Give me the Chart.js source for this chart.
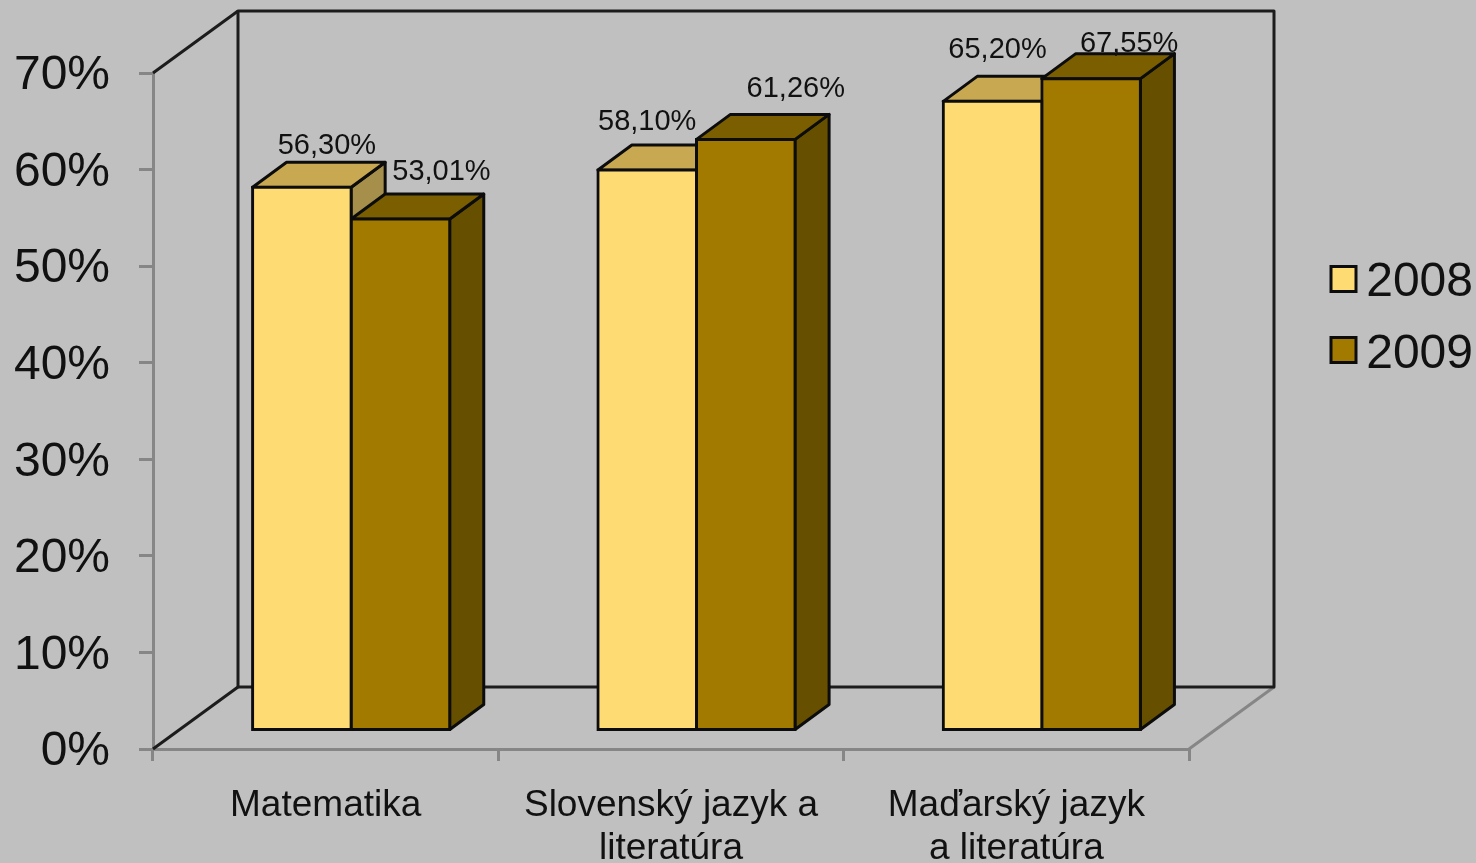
<!DOCTYPE html>
<html>
<head>
<meta charset="utf-8">
<style>html,body{margin:0;padding:0;background:#C0C0C0;overflow:hidden}canvas{display:block}</style>
<script src="https://cdn.jsdelivr.net/npm/chart.js@4"></script>
</head>
<body>
<canvas id="c" width="1476" height="863"></canvas>
<script>
const categories = ['Matematika', ['Slovenský jazyk a', 'literatúra'], ['Maďarský jazyk', 'a literatúra']];
const values2008 = [56.30, 58.10, 65.20];
const values2009 = [53.01, 61.26, 67.55];
const seriesNames = ['2008', '2009'];

const FONT = '"Liberation Sans", Arial, sans-serif';
const INK = '#111111', GREY = '#868686', WALL = '#1c1c1c', EDGE = '#0c0c0c';
const wallD = {x: 85, y: -62};      // wall depth
const front = {x: 25.5, y: -18};    // bars' front plane shift
const barD = {x: 34, y: -25};       // bar depth
const fills = ['#FFDC73', '#A37A00'];
const faces = [
  {top: '#C8A850', side: '#A58F4B'},
  {top: '#7B5E00', side: '#665000'}
];
const labelShift = [
  [[25, -41], [0, -48], [5, -51]],
  [[41, -47], [50, -50], [38, -35]]
];

function poly(ctx, pts, fill, stroke, w) {
  ctx.beginPath();
  pts.forEach((p, i) => i ? ctx.lineTo(p[0], p[1]) : ctx.moveTo(p[0], p[1]));
  ctx.closePath();
  if (fill) { ctx.fillStyle = fill; ctx.fill(); }
  if (stroke) { ctx.strokeStyle = stroke; ctx.lineWidth = w; ctx.lineJoin = 'round'; ctx.stroke(); }
}
function line(ctx, a, b, c, w) {
  ctx.beginPath(); ctx.moveTo(a[0], a[1]); ctx.lineTo(b[0], b[1]);
  ctx.strokeStyle = c; ctx.lineWidth = w; ctx.stroke();
}

const threeD = {
  id: 'threeD',
  afterLayout(chart) {
    const l = chart.legend;
    l.left = 1307; l.right = 1473; l.top = 235; l.bottom = 444;
    l.width = l.right - l.left; l.height = l.bottom - l.top;
  },
  beforeDatasetsDraw(chart) {
    const ctx = chart.ctx, xs = chart.scales.x, ys = chart.scales.y;
    const L = xs.left, R = xs.right, B = ys.getPixelForValue(0), T = ys.getPixelForValue(70);
    ctx.save();
    line(ctx, [R, B], [R + wallD.x, B + wallD.y], GREY, 3);
    line(ctx, [L, T], [L + wallD.x, T + wallD.y], WALL, 3);
    line(ctx, [L, B], [L + wallD.x, B + wallD.y], WALL, 3);
    poly(ctx, [[L + wallD.x, T + wallD.y], [R + wallD.x, T + wallD.y], [R + wallD.x, B + wallD.y], [L + wallD.x, B + wallD.y]], null, WALL, 3);
    [0, 1].forEach(di => {
      chart.getDatasetMeta(di).data.forEach(el => {
        const p = el.getProps(['x', 'y', 'base', 'width'], true);
        const x0 = p.x - p.width / 2 + front.x, x1 = p.x + p.width / 2 + front.x;
        const y0 = p.y + front.y, y1 = p.base + front.y;
        poly(ctx, [[x1, y0], [x1 + barD.x, y0 + barD.y], [x1 + barD.x, y1 + barD.y], [x1, y1]], faces[di].side, EDGE, 3);
        poly(ctx, [[x0, y0], [x0 + barD.x, y0 + barD.y], [x1 + barD.x, y0 + barD.y], [x1, y0]], faces[di].top, EDGE, 3);
      });
    });
    ctx.restore();
    ctx.save();
    ctx.translate(front.x, front.y);
  },
  afterDatasetsDraw(chart) {
    const ctx = chart.ctx;
    ctx.restore();
    ctx.save();
    ctx.font = '29px ' + FONT;
    ctx.fillStyle = INK;
    ctx.textAlign = 'center';
    ctx.textBaseline = 'middle';
    [0, 1].forEach(di => {
      const ds = chart.data.datasets[di];
      chart.getDatasetMeta(di).data.forEach((el, i) => {
        const p = el.getProps(['x', 'y'], true);
        const s = labelShift[di][i];
        ctx.fillText(ds.data[i].toFixed(2).replace('.', ',') + '%', p.x + front.x + s[0], p.y + front.y + s[1]);
      });
    });
    ctx.restore();
  },
  afterDraw(chart) {
    // legend swatches sit slightly above the legend text's centre
    const ctx = chart.ctx, l = chart.legend;
    ctx.save();
    fills.forEach((f, i) => {
      const x = l.left + 24, y = l.top + 24 + i * 71 + 7.5;
      ctx.fillStyle = f; ctx.fillRect(x, y, 25, 25);
      ctx.strokeStyle = EDGE; ctx.lineWidth = 3; ctx.strokeRect(x, y, 25, 25);
    });
    ctx.restore();
  }
};

new Chart(document.getElementById('c'), {
  type: 'bar',
  data: {
    labels: categories,
    datasets: [
      {label: seriesNames[0], data: values2008, backgroundColor: fills[0], borderColor: EDGE, borderWidth: 3, borderSkipped: false, inflateAmount: 1.5, clip: false},
      {label: seriesNames[1], data: values2009, backgroundColor: fills[1], borderColor: EDGE, borderWidth: 3, borderSkipped: false, inflateAmount: 1.5, clip: false}
    ]
  },
  options: {
    responsive: false,
    animation: false,
    events: [],
    layout: {autoPadding: false, padding: {left: 0, top: 73, right: 287, bottom: 0}},
    datasets: {bar: {categoryPercentage: 0.571, barPercentage: 1}},
    scales: {
      x: {
        afterFit(s) { s.height = 114; },
        border: {color: GREY, width: 3},
        grid: {color: GREY, lineWidth: 3, drawOnChartArea: false, tickLength: 12, offset: true},
        ticks: {color: INK, font: {family: FONT, size: 37, lineHeight: 1.16}, padding: 23, maxRotation: 0, minRotation: 0, autoSkip: false}
      },
      y: {
        min: 0, max: 70,
        afterFit(s) { s.width = 153; },
        border: {color: GREY, width: 3},
        grid: {color: GREY, lineWidth: 3, drawOnChartArea: false, tickLength: 14},
        ticks: {color: INK, stepSize: 10, font: {family: FONT, size: 48}, padding: 29, labelOffset: 3, callback: v => v + '%'}
      }
    },
    plugins: {
      tooltip: {enabled: false},
      title: {display: false},
      legend: {
        position: 'chartArea',
        align: 'start',
        labels: {
          boxWidth: 24, boxHeight: 24, padding: 24, color: INK, textAlign: 'right',
          font: {family: FONT, size: 48},
          generateLabels(chart) {
            return Chart.defaults.plugins.legend.labels.generateLabels(chart).map(item =>
              Object.assign(item, {fillStyle: 'rgba(0,0,0,0)', strokeStyle: 'rgba(0,0,0,0)'}));
          }
        }
      }
    }
  },
  plugins: [threeD]
});
</script>
</body>
</html>
